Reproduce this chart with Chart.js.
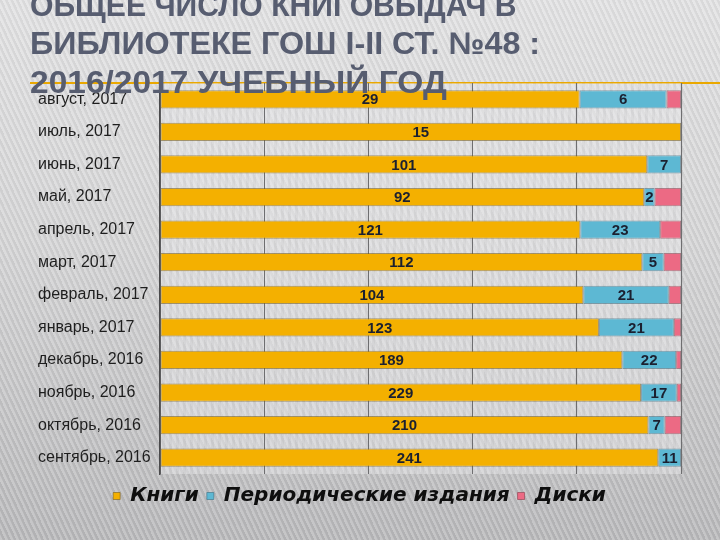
<!DOCTYPE html>
<html>
<head>
<meta charset="utf-8">
<script src="https://cdn.jsdelivr.net/npm/chart.js@4/dist/chart.umd.min.js"></script>
<style>
  html, body { margin: 0; padding: 0; }
  body {
    width: 720px; height: 540px; overflow: hidden; position: relative;
    background:
      repeating-linear-gradient(65deg, rgba(255,255,255,0.18) 0px, rgba(255,255,255,0.18) 2px, rgba(0,0,0,0.04) 3px, rgba(0,0,0,0.04) 5px),
      linear-gradient(180deg, #e2e2e3 0%, #d4d4d5 45%, #b8b8ba 100%);
  }
  #wrap { position: absolute; left: 0; top: 0; width: 720px; height: 540px; }
  #deco { position: absolute; left: 30px; top: 82px; width: 690px; height: 2px; background: #eaa800; }
  #title {
    position: absolute; left: 30px; top: -13.5px; z-index: 5; pointer-events: none;
    font-family: "Liberation Sans", Arial, sans-serif; font-weight: bold; font-size: 31px;
    line-height: 38.5px; color: #575d70; white-space: nowrap;
  }
  #title span { display: inline-block; transform-origin: 0 50%; }
</style>
</head>
<body>
<div id="deco"></div>
<div id="wrap"><canvas id="chart" width="720" height="540"></canvas></div>
<div id="title"></div>
<script>
// title lines of the slide and how wide each one is on the slide
var titleLines = ['ОБЩЕЕ ЧИСЛО КНИГОВЫДАЧ В', 'БИБЛИОТЕКЕ ГОШ I-II СТ. №48 :', '2016/2017 УЧЕБНЫЙ ГОД'];
var titleWidths = [487, 510, 417];

// months, top to bottom
var categories = ['август, 2017', 'июль, 2017', 'июнь, 2017', 'май, 2017', 'апрель, 2017', 'март, 2017',
  'февраль, 2017', 'январь, 2017', 'декабрь, 2016', 'ноябрь, 2016', 'октябрь, 2016', 'сентябрь, 2016'];
var books = [29, 15, 101, 92, 121, 112, 104, 123, 189, 229, 210, 241];
var periodicals = [6, 0, 7, 2, 23, 5, 21, 21, 22, 17, 7, 11];
var discs = [1, 0, 0, 5, 6, 4, 3, 2, 2, 2, 7, 0]; // no labels on the slide
var seriesNames = ['Книги', 'Периодические издания', 'Диски'];
var xTicks = [0, 20, 40, 60, 80, 100];

// title: one line per div, stretched to the slide's width
var titleEl = document.getElementById('title');
titleLines.forEach(function (line, i) {
  var div = document.createElement('div');
  var span = document.createElement('span');
  span.textContent = line;
  div.appendChild(span);
  titleEl.appendChild(div);
  var w = span.offsetWidth;
  span.style.transform = 'scaleX(' + (titleWidths[i] / w) + ')';
});

// 100% stacked: share of each month's total
function share(arr) {
  return arr.map(function (v, i) {
    var total = books[i] + periodicals[i] + discs[i];
    return v / total * 100;
  });
}
var rawSeries = [books, periodicals, discs];

// background behind the bars, light with vertical stripes
var plotBg = {
  id: 'plotBg',
  beforeDraw: function (chart) {
    var a = chart.chartArea, ctx = chart.ctx;
    ctx.save();
    ctx.fillStyle = 'rgba(232,232,233,0.55)';
    ctx.fillRect(a.left, a.top, a.right - a.left, a.bottom - a.top);
    ctx.fillStyle = 'rgba(0,0,0,0.045)';
    for (var x = a.left + 2; x < a.right; x += 7) {
      ctx.fillRect(x, a.top, 3, a.bottom - a.top);
    }
    ctx.restore();
  }
};

// value labels in the middle of book and periodical segments
var valueLabels = {
  id: 'valueLabels',
  afterDatasetsDraw: function (chart) {
    var ctx = chart.ctx;
    ctx.save();
    ctx.font = 'bold 15px "Liberation Sans", Arial, sans-serif';
    ctx.fillStyle = '#1b2030';
    ctx.textAlign = 'center';
    ctx.textBaseline = 'middle';
    [0, 1].forEach(function (d) {
      chart.getDatasetMeta(d).data.forEach(function (bar, i) {
        var v = rawSeries[d][i];
        if (!v) return;
        ctx.fillText(v, (bar.x + bar.base) / 2, bar.y + 1);
      });
    });
    ctx.restore();
  }
};

var ctx = document.getElementById('chart').getContext('2d');
new Chart(ctx, {
  type: 'bar',
  data: {
    labels: categories,
    datasets: [
      { label: seriesNames[0], data: share(books), backgroundColor: '#f4b000', borderColor: 'rgba(120,95,30,0.6)' },
      { label: seriesNames[1], data: share(periodicals), backgroundColor: '#5db8d3', borderColor: 'rgba(60,110,130,0.6)' },
      { label: seriesNames[2], data: share(discs), backgroundColor: '#ec6a84', borderColor: 'rgba(140,60,75,0.6)' }
    ]
  },
  options: {
    indexAxis: 'y',
    responsive: false,
    animation: false,
    datasets: {
      bar: { borderWidth: 1, borderSkipped: false, categoryPercentage: 1, barPercentage: 0.56 }
    },
    layout: { padding: { top: 83, left: 38, right: 39, bottom: 24 } },
    scales: {
      x: {
        stacked: true, min: 0, max: 100,
        afterBuildTicks: function (scale) { scale.ticks = xTicks.map(function (v) { return { value: v }; }); },
        afterFit: function (scale) { scale.height = 4; },
        ticks: { display: false },
        grid: { color: '#6e6e70', lineWidth: 1, drawTicks: false },
        border: { display: false }
      },
      y: {
        stacked: true,
        afterFit: function (scale) { scale.width = 122; },
        ticks: {
          crossAlign: 'far', color: '#1e1e1e',
          font: { family: '"Liberation Sans", Arial, sans-serif', size: 16 }
        },
        grid: { display: false },
        border: { display: true, color: '#4a4a4c', width: 1.5 }
      }
    },
    plugins: {
      legend: {
        position: 'bottom',
        labels: {
          boxWidth: 7, boxHeight: 7, padding: 8, color: '#0e0e0e',
          font: { family: '"DejaVu Sans", sans-serif', size: 20, weight: 'bold', style: 'italic' }
        }
      },
      tooltip: { enabled: false }
    }
  },
  plugins: [plotBg, valueLabels]
});
</script>
</body>
</html>
